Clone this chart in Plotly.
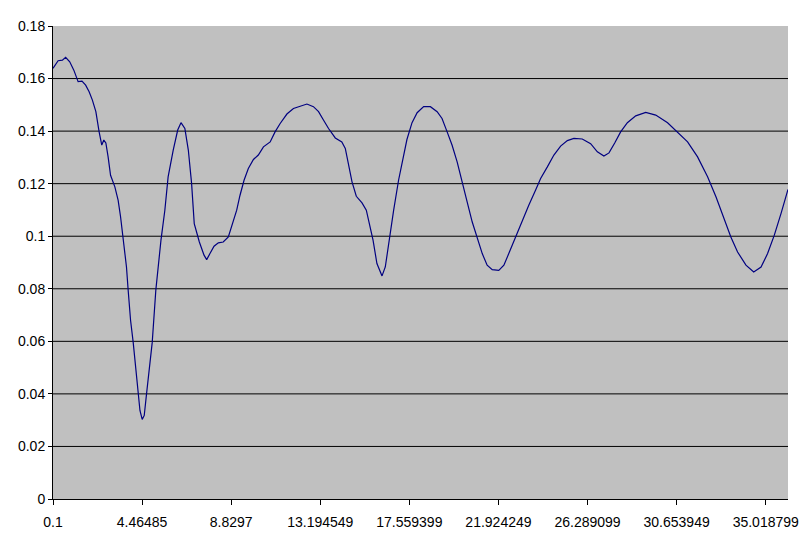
import plotly.graph_objects as go

# Data
x_vals = [0.10, 0.35, 0.56, 0.72, 0.92, 1.12, 1.33, 1.52, 1.70, 1.87, 2.03, 2.20, 2.36, 2.49, 2.59,
          2.69, 2.80, 2.92, 3.13, 3.29, 3.41, 3.54, 3.70, 3.78, 3.90, 4.03, 4.16, 4.27, 4.36, 4.47,
          4.57, 4.68, 4.81, 4.96, 5.14, 5.39, 5.58, 5.74, 5.99, 6.21, 6.37, 6.56, 6.73, 6.89, 7.02,
          7.27, 7.50, 7.63, 7.79, 7.99, 8.20, 8.44, 8.69, 8.91, 9.10, 9.26, 9.46, 9.67, 9.92, 10.16,
          10.41, 10.74, 10.98, 11.23, 11.56, 11.88, 12.21, 12.54, 12.86, 13.11, 13.35, 13.60, 13.93,
          14.25, 14.42, 14.58, 14.75, 14.96, 15.24, 15.45, 15.61, 15.78, 15.97, 16.22, 16.38, 16.54,
          16.79, 17.03, 17.25, 17.44, 17.69, 17.94, 18.26, 18.59, 18.92, 19.16, 19.41, 19.65, 19.90,
          20.14, 20.39, 20.64, 20.88, 21.13, 21.37, 21.62, 21.94, 22.19, 22.43, 22.76, 23.09, 23.41,
          23.74, 23.99, 24.32, 24.64, 24.97, 25.30, 25.62, 26.03, 26.44, 26.77, 27.09, 27.34, 27.62,
          27.91, 28.24, 28.65, 29.14, 29.63, 30.21, 30.70, 31.19, 31.68, 32.17, 32.58, 32.98, 33.31,
          33.64, 34.05, 34.43, 34.79, 35.11, 35.44, 35.77, 36.11]
y_vals = [0.1639, 0.1668, 0.1670, 0.1681, 0.1664, 0.1632, 0.1588, 0.1590, 0.1575, 0.1550, 0.1518,
          0.1474, 0.1397, 0.1347, 0.1366, 0.1355, 0.1302, 0.1232, 0.1188, 0.1137, 0.1074, 0.0997,
          0.0883, 0.0797, 0.0680, 0.0595, 0.0490, 0.0398, 0.0337, 0.0303, 0.0318, 0.0398, 0.0502,
          0.0595, 0.0797, 0.0985, 0.1099, 0.1226, 0.1328, 0.1404, 0.1432, 0.1410, 0.1328, 0.1201,
          0.1048, 0.0978, 0.0928, 0.0911, 0.0934, 0.0962, 0.0975, 0.0978, 0.0997, 0.1048, 0.1099,
          0.1155, 0.1213, 0.1258, 0.1292, 0.1309, 0.1340, 0.1359, 0.1397, 0.1429, 0.1465, 0.1486,
          0.1495, 0.1503, 0.1493, 0.1474, 0.1442, 0.1410, 0.1374, 0.1359, 0.1334, 0.1270, 0.1207,
          0.1152, 0.1127, 0.1099, 0.1048, 0.0985, 0.0896, 0.0849, 0.0883, 0.0972, 0.1099, 0.1213,
          0.1302, 0.1368, 0.1432, 0.1470, 0.1493, 0.1493, 0.1474, 0.1448, 0.1397, 0.1347, 0.1283,
          0.1213, 0.1131, 0.1054, 0.0991, 0.0934, 0.0890, 0.0873, 0.0870, 0.0890, 0.0934, 0.0997,
          0.1061, 0.1118, 0.1175, 0.1220, 0.1264, 0.1309, 0.1343, 0.1364, 0.1372, 0.1370, 0.1352,
          0.1321, 0.1305, 0.1317, 0.1355, 0.1397, 0.1432, 0.1458, 0.1471, 0.1461, 0.1432, 0.1397,
          0.1359, 0.1302, 0.1226, 0.1150, 0.1067, 0.0997, 0.0940, 0.0890, 0.0864, 0.0883, 0.0934,
          0.1004, 0.1087, 0.1178]

x_tick_vals = [0.1, 4.46485, 8.8297, 13.194549, 17.559399, 21.924249, 26.289099, 30.653949, 35.018799]
x_tick_text = ["0.1", "4.46485", "8.8297", "13.194549", "17.559399", "21.924249", "26.289099",
               "30.653949", "35.018799"]
y_tick_vals = [0, 0.02, 0.04, 0.06, 0.08, 0.1, 0.12, 0.14, 0.16, 0.18]
y_tick_text = ["0", "0.02", "0.04", "0.06", "0.08", "0.1", "0.12", "0.14", "0.16", "0.18"]
grid_levels = [0.02, 0.04, 0.06, 0.08, 0.1, 0.12, 0.14, 0.16]

fig = go.Figure()
fig.add_trace(go.Scatter(x=x_vals, y=y_vals, mode="lines",
                         line=dict(color="#000080", width=1.2), showlegend=False,
                         hoverinfo="x+y"))

for g in grid_levels:
    fig.add_shape(type="line", xref="paper", yref="y", x0=0, x1=1, y0=g, y1=g,
                  line=dict(color="black", width=1), layer="below")

fig.update_layout(
    width=800, height=544,
    margin=dict(l=53, r=12, t=26, b=45),
    paper_bgcolor="white",
    plot_bgcolor="#C0C0C0",
    font=dict(family="Liberation Sans, Arial, sans-serif", size=14, color="black"),
    xaxis=dict(range=[0.1, 36.11], tickvals=x_tick_vals, ticktext=x_tick_text,
               showgrid=False, zeroline=False, showline=True, linecolor="black", linewidth=1,
               ticks="outside", ticklen=5, tickcolor="black", tickwidth=1, automargin=False,
               ticklabelstandoff=5),
    yaxis=dict(range=[0, 0.18], tickvals=y_tick_vals, ticktext=y_tick_text,
               showgrid=False, zeroline=False, showline=True, linecolor="black", linewidth=1,
               ticks="outside", ticklen=4, tickcolor="black", tickwidth=1, automargin=False),
)

fig.write_html("out.html", config={"displayModeBar": False},
               post_script="document.body.style.margin='0';document.body.style.padding='0';")
